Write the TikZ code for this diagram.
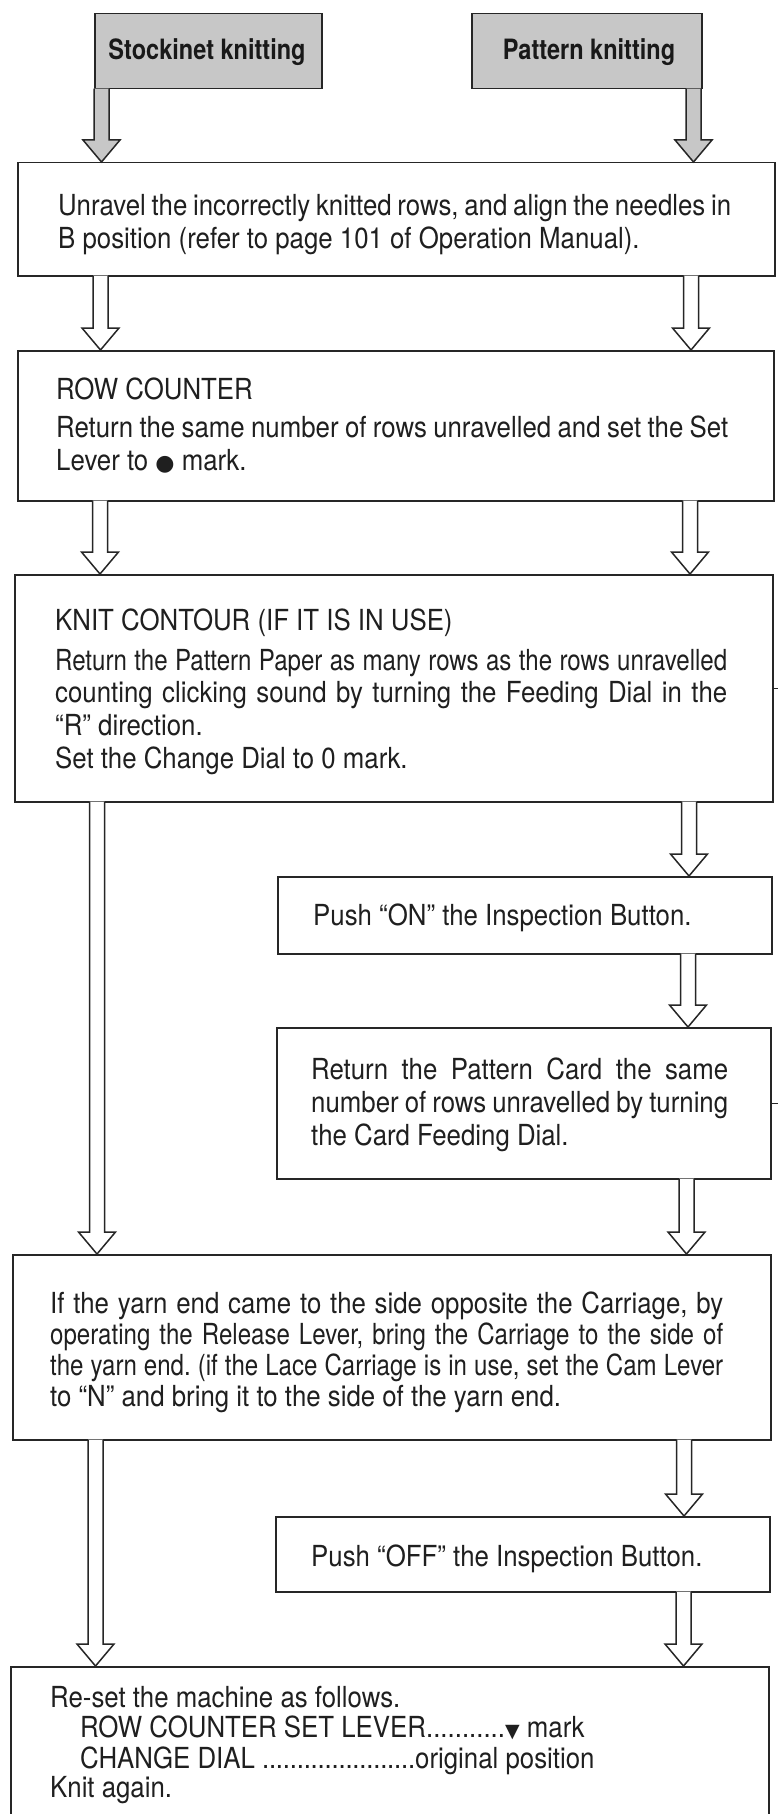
\documentclass[tikz,border=0pt]{standalone}
\usepackage{fontspec}
\setmainfont{TeX Gyre Heros}[FakeStretch=0.89]
\newfontfamily\narrowfont{TeX Gyre Heros}[FakeStretch=0.83]
\newfontfamily\headfont{TeX Gyre Heros}[FakeStretch=0.84]
\newfontfamily\symfont{DejaVu Sans}
\usetikzlibrary{calc}

\tikzset{
  box/.style={draw=black!85, line width=1.5pt, fill=white, inner sep=0pt, anchor=north west},
  gbox/.style={draw=black!85, line width=1.5pt, fill=black!22, inner sep=0pt, anchor=north west},
  txt/.style={inner sep=0pt, anchor=base west, text=black!88, font=\fontsize{29}{34}\selectfont},
  head/.style={inner sep=0pt, text=black!90, font=\headfont\bfseries\fontsize{28}{32}\selectfont},
  arr/.style={draw=black!85, line width=1.5pt, line join=miter},
}

% hollow block arrow: [fill] x-centre, from node, to node
\newcommand\flowarrow[4][white]{%
  \fill[#1] let \p1=(#3.south), \p2=(#4.north) in
    (#2pt-7.5pt,\y1+0.8pt) -- (#2pt-7.5pt,\y2+22pt) -- (#2pt-18.5pt,\y2+22pt) -- (#2pt,\y2)
    -- (#2pt+18.5pt,\y2+22pt) -- (#2pt+7.5pt,\y2+22pt) -- (#2pt+7.5pt,\y1+0.8pt) -- cycle;
  \draw[arr] let \p1=(#3.south), \p2=(#4.north) in
    (#2pt-7.5pt,\y1+0.75pt) -- (#2pt-7.5pt,\y2+22pt) -- (#2pt-18.5pt,\y2+22pt) -- (#2pt,\y2)
    -- (#2pt+18.5pt,\y2+22pt) -- (#2pt+7.5pt,\y2+22pt) -- (#2pt+7.5pt,\y1+0.75pt);
}
% text line: name, x, baseline, text
\newcommand\tline[4]{\node[txt] (#1) at (#2,#3) {#4};}
% justified text line: name, x, baseline, width, text
\newcommand\jline[5]{\node[txt] (#1) at (#2,#3) {\makebox[#4pt][s]{\frenchspacing\spaceskip=3pt plus 1fil\relax #5}};}
\newcommand\dotrun{\xleaders\hbox to 6.8pt{\hss.\hss}\hfill}

\begin{document}
\begin{tikzpicture}[x=1pt,y=-1pt]
\useasboundingbox (0,0) rectangle (777,1814);
\fill[white] (0,0) rectangle (777,1814);

% heading boxes
\node[gbox, minimum width=227pt, minimum height=75pt] (gs) at (94,13) {};
\node[gbox, minimum width=230pt, minimum height=75pt] (gp) at (471,13) {};

% step boxes
\node[box, minimum width=757pt, minimum height=113pt] (b1) at (17,162) {};
\node[box, minimum width=756pt, minimum height=150pt] (b2) at (17,350) {};
\node[box, minimum width=758pt, minimum height=227pt] (b3) at (14,574) {};
\node[box, minimum width=494pt, minimum height=77pt] (bon) at (277,876) {};
\node[box, minimum width=494pt, minimum height=151pt] (bcard) at (276,1027) {};
\node[box, minimum width=758pt, minimum height=185pt] (bbig) at (12,1254) {};
\node[box, minimum width=494pt, minimum height=75pt] (boff) at (275,1516) {};
\node[box, minimum width=758pt, minimum height=170pt] (bfin) at (10,1666) {};

% stubs at right edge
\draw[arr] (b3.east) -- ++(8,0);
\draw[arr] (bcard.east) -- ++(8,0);

% arrows
\flowarrow[black!22]{101.5}{gs}{b1}
\flowarrow[black!22]{693.5}{gp}{b1}
\flowarrow{100.5}{b1}{b2}
\flowarrow{691}{b1}{b2}
\flowarrow{100}{b2}{b3}
\flowarrow{690}{b2}{b3}
\flowarrow{97}{b3}{bbig}
\flowarrow{689}{b3}{bon}
\flowarrow{688}{bon}{bcard}
\flowarrow{686.5}{bcard}{bbig}
\flowarrow{95.5}{bbig}{bfin}
\flowarrow{684}{bbig}{boff}
\flowarrow{683.5}{boff}{bfin}

% heading texts
\node[head] (gst) at (207,52) {Stockinet knitting};
\node[head] (gpt) at (589,52) {Pattern knitting};

% box 1
\jline{t11}{58}{215}{673}{Unravel the incorrectly knitted rows, and align the needles in}
\tline{t12}{58}{248}{B position (refer to page 101 of Operation Manual).}
% box 2
\tline{t21}{56}{399}{ROW COUNTER}
\jline{t22}{56}{437}{672}{Return the same number of rows unravelled and set the Set}
\tline{t23}{56}{470}{Lever to {\symfont\fontsize{22}{22}\selectfont ●} mark.}
% box 3
\tline{t31}{55}{630}{KNIT CONTOUR (IF IT IS IN USE)}
\jline{t32}{55}{670}{672}{\narrowfont Return the Pattern Paper as many rows as the rows unravelled}
\jline{t33}{55}{702}{672}{counting clicking sound by turning the Feeding Dial in the}
\tline{t34}{55}{735}{“R” direction.}
\tline{t35}{55}{768}{Set the Change Dial to 0 mark.}
% push on
\tline{t41}{313}{925}{Push “ON” the Inspection Button.}
% card
\jline{t51}{311}{1079}{417}{Return the Pattern Card the same}
\jline{t52}{311}{1112}{417}{number of rows unravelled by turning}
\tline{t53}{311}{1145}{the Card Feeding Dial.}
% big box
\jline{t61}{50}{1313}{673}{If the yarn end came to the side opposite the Carriage, by}
\jline{t62}{50}{1344}{673}{\narrowfont operating the Release Lever, bring the Carriage to the side of}
\jline{t63}{50}{1375}{673}{\narrowfont the yarn end. (if the Lace Carriage is in use, set the Cam Lever}
\tline{t64}{50}{1406}{to “N” and bring it to the side of the yarn end.}
% push off
\tline{t71}{311}{1566}{Push “OFF” the Inspection Button.}
% final
\tline{t81}{50}{1707}{Re-set the machine as follows.}
\tline{t82}{80}{1737}{\hbox to 425pt{ROW COUNTER SET LEVER\dotrun}{\symfont\fontsize{19}{19}\selectfont ▼} mark}
\tline{t83}{80}{1768}{\hbox to 335pt{CHANGE DIAL \dotrun}original position}
\tline{t84}{50}{1797}{Knit again.}
\end{tikzpicture}
\end{document}
